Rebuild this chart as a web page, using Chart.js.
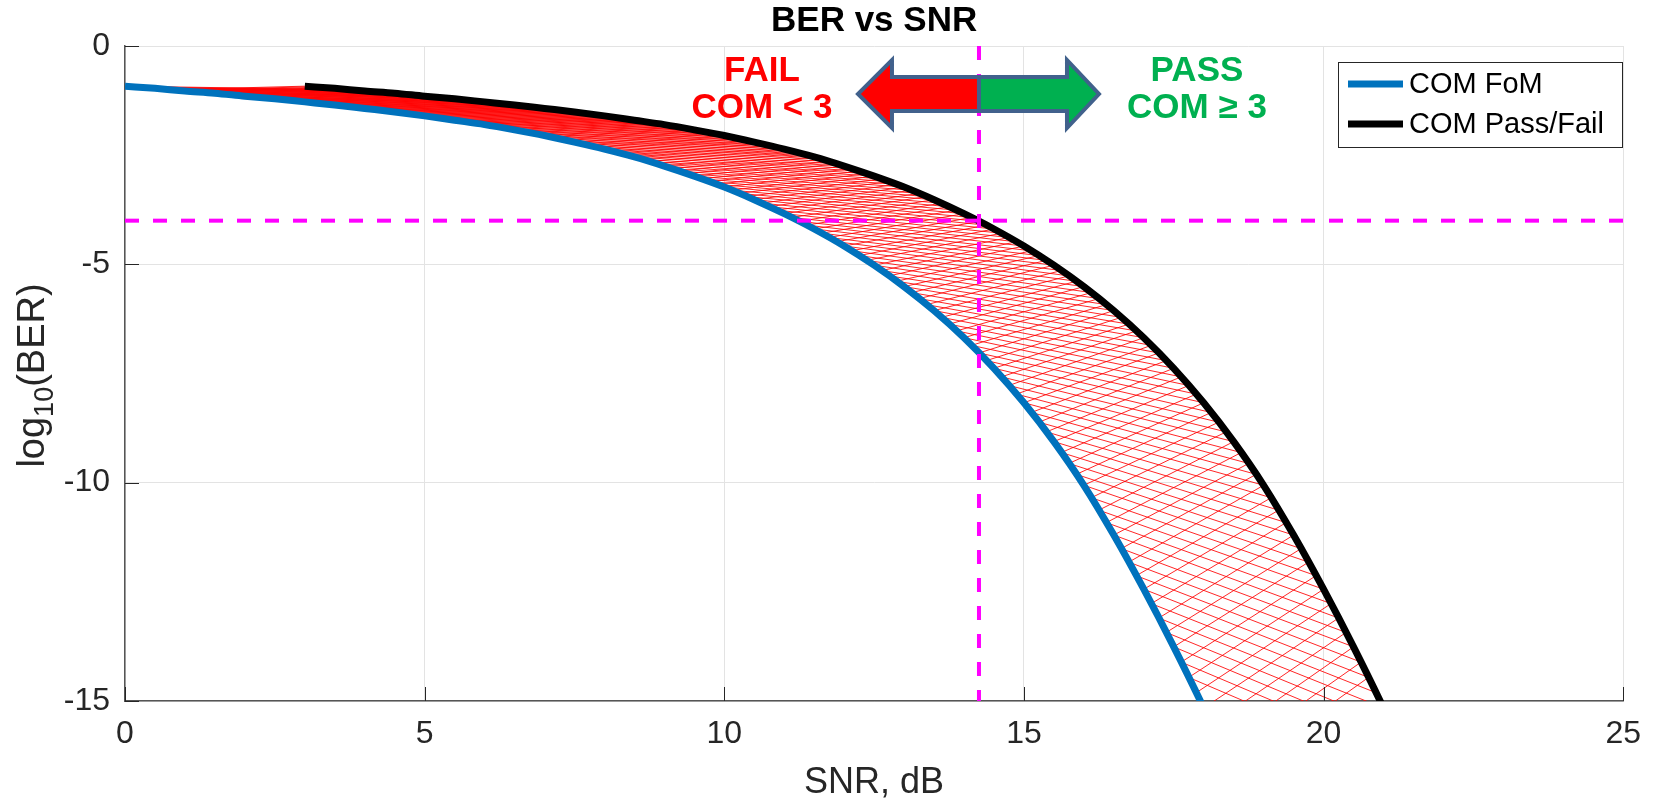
<!DOCTYPE html>
<html>
<head>
<meta charset="utf-8">
<title>BER vs SNR</title>
<script src="https://cdn.jsdelivr.net/npm/chart.js@4.4.1/dist/chart.umd.min.js"></script>
<style>
  html, body { margin: 0; padding: 0; background: #fff; }
  canvas { display: block; }
</style>
</head>
<body>
<canvas id="berChart" width="1655" height="800"></canvas>
<script>
// ==============================
// DATA
// ==============================
const snrFom = [0, 0.5, 1, 1.5, 2, 2.5, 3, 3.5, 4, 4.5, 5, 5.5, 6, 6.5, 7, 7.5, 8, 8.5, 9, 9.5,
                10, 10.5, 11, 11.5, 12, 12.5, 13, 13.5, 14, 14.5, 15, 15.5, 16, 16.5, 17, 17.5,
                18, 18.5];
const berFom = [-0.92, -0.97, -1.03, -1.08, -1.15, -1.21, -1.28, -1.35, -1.43, -1.51,
                -1.60, -1.70, -1.80, -1.92, -2.05, -2.20, -2.36, -2.54, -2.75, -2.98,
                -3.23, -3.52, -3.84, -4.19, -4.58, -5.02, -5.51, -6.06, -6.68, -7.38,
                -8.17, -9.06, -10.06, -11.20, -12.44, -13.76, -15.16, -16.66];

const snrPassFail = [3, 3.5, 4, 4.5, 5, 5.5, 6, 6.5, 7, 7.5, 8, 8.5, 9, 9.5, 10, 10.5, 11, 11.5,
                     12, 12.5, 13, 13.5, 14, 14.5, 15, 15.5, 16, 16.5, 17, 17.5, 18, 18.5, 19,
                     19.5, 20, 20.5, 21, 21.5];
const berPassFail = [-0.92, -0.97, -1.03, -1.08, -1.15, -1.21, -1.28, -1.35, -1.43, -1.51,
                     -1.60, -1.70, -1.80, -1.92, -2.05, -2.20, -2.36, -2.54, -2.75, -2.98,
                     -3.23, -3.52, -3.84, -4.19, -4.58, -5.02, -5.51, -6.06, -6.68, -7.38,
                     -8.17, -9.06, -10.06, -11.20, -12.44, -13.76, -15.16, -16.66];

const targetBer = -4;        // horizontal dashed line
const targetSnr = 14.25;     // vertical dashed line
const comThreshold = 3;      // COM pass/fail, dB

const xTicks = [0, 5, 10, 15, 20, 25];
const yTicks = [0, -5, -10, -15];

const FONT = '"Liberation Sans", Arial, Helvetica, sans-serif';
const BLUE = '#0072BD';
const MAGENTA = '#FF00FF';

function toPoints(xs, ys) {
    return xs.map((x, i) => ({ x: x, y: ys[i] }));
}

// linear lookup along a typed series, null when outside it
function lookup(xs, ys, s) {
    if (s < xs[0] || s > xs[xs.length - 1]) return null;
    for (let i = 1; i < xs.length; i++) {
        if (s <= xs[i]) {
            const t = (s - xs[i - 1]) / (xs[i] - xs[i - 1]);
            return ys[i - 1] + t * (ys[i] - ys[i - 1]);
        }
    }
    return ys[ys.length - 1];
}

// ==============================
// HATCH + ANNOTATIONS
// ==============================
const hatchPlugin = {
    id: 'hatch',
    beforeDatasetsDraw(chart) {
        const { ctx, chartArea: a, scales: { x, y } } = chart;
        const step = 0.125, spread = 0.75;
        ctx.save();
        ctx.beginPath();
        ctx.rect(a.left, a.top, a.right - a.left, a.bottom - a.top);
        ctx.clip();
        ctx.strokeStyle = 'rgba(255, 0, 0, 0.85)';
        ctx.lineWidth = 1;
        ctx.beginPath();
        for (let s = snrFom[0]; s <= snrFom[snrFom.length - 1] + 1e-9; s += step) {
            const b = lookup(snrFom, berFom, s);
            [spread, -spread].forEach(d => {
                const t = s + comThreshold + d;
                const k = lookup(snrPassFail, berPassFail, t);
                if (k === null) return;
                ctx.moveTo(x.getPixelForValue(s), y.getPixelForValue(b));
                ctx.lineTo(x.getPixelForValue(t), y.getPixelForValue(k));
            });
        }
        ctx.stroke();
        ctx.restore();
    }
};

const decorPlugin = {
    id: 'decor',
    afterDraw(chart) {
        const { ctx, chartArea: a, scales: { x, y } } = chart;
        const cx = (a.left + a.right) / 2;
        ctx.save();

        // inward tick marks
        ctx.strokeStyle = '#262626';
        ctx.lineWidth = 1;
        ctx.beginPath();
        yTicks.forEach(v => {
            const py = Math.round(y.getPixelForValue(v)) + 0.5;
            ctx.moveTo(a.left, py);
            ctx.lineTo(a.left + 14, py);
        });
        xTicks.forEach(v => {
            const px = Math.round(x.getPixelForValue(v)) + 0.5;
            ctx.moveTo(px, a.bottom);
            ctx.lineTo(px, a.bottom - 14);
        });
        ctx.stroke();

        // title
        ctx.fillStyle = '#000';
        ctx.font = 'bold 35px ' + FONT;
        ctx.textAlign = 'center';
        ctx.textBaseline = 'middle';
        ctx.fillText('BER vs SNR', cx, 21);

        // x axis label
        ctx.fillStyle = '#262626';
        ctx.font = '36px ' + FONT;
        ctx.fillText('SNR, dB', cx, 783);

        // y axis label with subscript
        ctx.save();
        ctx.translate(44, (a.top + a.bottom) / 2 + 2);
        ctx.rotate(-Math.PI / 2);
        ctx.textAlign = 'left';
        ctx.textBaseline = 'alphabetic';
        ctx.font = '38px ' + FONT;
        const w1 = ctx.measureText('log').width;
        const w3 = ctx.measureText('(BER)').width;
        ctx.font = '27px ' + FONT;
        const w2 = ctx.measureText('10').width;
        let lx = -(w1 + w2 + w3) / 2;
        ctx.font = '38px ' + FONT;
        ctx.fillText('log', lx, 0);
        lx += w1;
        ctx.font = '27px ' + FONT;
        ctx.fillText('10', lx, 9);
        lx += w2;
        ctx.font = '38px ' + FONT;
        ctx.fillText('(BER)', lx, 0);
        ctx.restore();

        // double arrow split at the pass/fail SNR
        const mid = x.getPixelForValue(targetSnr);
        const ay = 94, head = 34, shaft = 17;
        const leftTip = mid - 121, leftBack = mid - 87;
        const rightTip = mid + 120, rightBack = mid + 88;
        ctx.lineJoin = 'miter';
        ctx.lineWidth = 4;
        ctx.strokeStyle = '#41618C';
        ctx.beginPath();
        ctx.moveTo(mid, ay - shaft);
        ctx.lineTo(leftBack, ay - shaft);
        ctx.lineTo(leftBack, ay - head);
        ctx.lineTo(leftTip, ay);
        ctx.lineTo(leftBack, ay + head);
        ctx.lineTo(leftBack, ay + shaft);
        ctx.lineTo(mid, ay + shaft);
        ctx.closePath();
        ctx.fillStyle = '#FF0000';
        ctx.fill();
        ctx.stroke();
        ctx.beginPath();
        ctx.moveTo(mid, ay - shaft);
        ctx.lineTo(rightBack, ay - shaft);
        ctx.lineTo(rightBack, ay - head);
        ctx.lineTo(rightTip, ay);
        ctx.lineTo(rightBack, ay + head);
        ctx.lineTo(rightBack, ay + shaft);
        ctx.lineTo(mid, ay + shaft);
        ctx.closePath();
        ctx.fillStyle = '#00B050';
        ctx.fill();
        ctx.stroke();

        // FAIL / PASS labels
        ctx.textAlign = 'center';
        ctx.textBaseline = 'middle';
        ctx.font = 'bold 35px ' + FONT;
        ctx.fillStyle = '#FF0000';
        ctx.fillText('FAIL', mid - 217, 71);
        ctx.fillText('COM < 3', mid - 217, 108);
        ctx.fillStyle = '#00B050';
        ctx.fillText('PASS', mid + 218, 71);
        ctx.fillText('COM \u2265 3', mid + 218, 108);

        // legend
        const lgX = 1338, lgY = 62, lgW = 284, lgH = 85;
        ctx.fillStyle = '#fff';
        ctx.fillRect(lgX, lgY, lgW, lgH);
        ctx.strokeStyle = '#262626';
        ctx.lineWidth = 1;
        ctx.strokeRect(lgX + 0.5, lgY + 0.5, lgW, lgH);
        const items = [
            { label: 'COM FoM', color: BLUE, yy: 84 },
            { label: 'COM Pass/Fail', color: '#000', yy: 124 }
        ];
        ctx.font = '29px ' + FONT;
        ctx.textAlign = 'left';
        items.forEach(it => {
            ctx.strokeStyle = it.color;
            ctx.lineWidth = 7;
            ctx.beginPath();
            ctx.moveTo(lgX + 10, it.yy);
            ctx.lineTo(lgX + 65, it.yy);
            ctx.stroke();
            ctx.fillStyle = '#000';
            ctx.fillText(it.label, lgX + 71, it.yy + 1);
        });

        ctx.restore();
    }
};

// ==============================
// CHART
// ==============================
function buildChart() {
    const ctx = document.getElementById('berChart');

    new Chart(ctx, {
        type: 'line',
        data: {
            datasets: [
                {
                    label: 'BER target',
                    data: [{ x: xTicks[0], y: targetBer }, { x: xTicks[xTicks.length - 1], y: targetBer }],
                    borderColor: MAGENTA,
                    borderWidth: 4,
                    borderDash: [14, 14]
                },
                {
                    label: 'Pass/Fail SNR',
                    data: [{ x: targetSnr, y: yTicks[0] }, { x: targetSnr, y: yTicks[yTicks.length - 1] }],
                    borderColor: MAGENTA,
                    borderWidth: 4,
                    borderDash: [14, 14]
                },
                {
                    label: 'COM FoM',
                    data: toPoints(snrFom, berFom),
                    borderColor: BLUE,
                    borderWidth: 7,
                    cubicInterpolationMode: 'monotone'
                },
                {
                    label: 'COM Pass/Fail',
                    data: toPoints(snrPassFail, berPassFail),
                    borderColor: '#000000',
                    borderWidth: 7,
                    cubicInterpolationMode: 'monotone'
                }
            ]
        },
        options: {
            responsive: false,
            animation: false,
            devicePixelRatio: 1,
            clip: 0,
            layout: { padding: { top: 46, right: 22, left: 0, bottom: 0 } },
            elements: { point: { radius: 0 }, line: { fill: false } },
            plugins: {
                legend: { display: false },
                title: { display: false },
                tooltip: { enabled: false }
            },
            scales: {
                x: {
                    type: 'linear',
                    min: xTicks[0],
                    max: xTicks[xTicks.length - 1],
                    afterBuildTicks: scale => { scale.ticks = xTicks.map(v => ({ value: v })); },
                    afterFit: scale => { scale.height = 99; },
                    grid: { color: '#e3e3e3', lineWidth: 1, drawTicks: false },
                    border: { display: true, color: '#555555', width: 1.5 },
                    ticks: {
                        color: '#262626',
                        padding: 14,
                        maxRotation: 0,
                        font: { family: FONT, size: 32 }
                    }
                },
                y: {
                    type: 'linear',
                    min: yTicks[yTicks.length - 1],
                    max: yTicks[0],
                    afterBuildTicks: scale => { scale.ticks = yTicks.map(v => ({ value: v })); },
                    afterFit: scale => { scale.width = 125; },
                    grid: { color: '#e3e3e3', lineWidth: 1, drawTicks: false },
                    border: { display: true, color: '#555555', width: 1.5 },
                    ticks: {
                        color: '#262626',
                        padding: 15,
                        font: { family: FONT, size: 32 }
                    }
                }
            }
        },
        plugins: [hatchPlugin, decorPlugin]
    });
}

buildChart();
</script>
</body>
</html>
